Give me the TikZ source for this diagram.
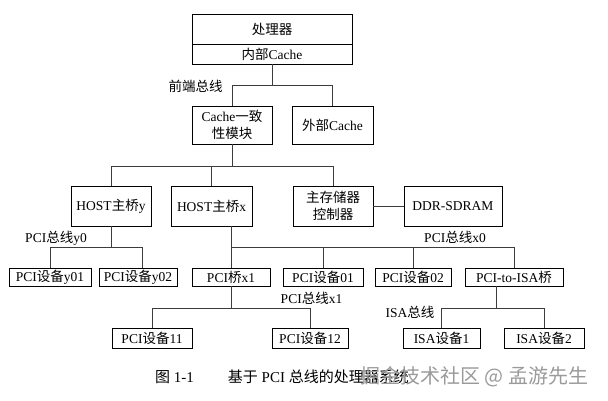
\documentclass[tikz,border=0pt]{standalone}
\usepackage{fontspec}
\setmainfont{Liberation Serif}
\newfontfamily\cjk{Noto Sans CJK SC}
\newcommand\zh[1]{{\cjk #1}}
\usetikzlibrary{calc}
\definecolor{cLineD}{HTML}{3C3C3C}
\definecolor{cMarkT}{HTML}{9A9A9A}
\tikzset{
  blk/.style   = {draw=black, line width=0.9pt, inner sep=1pt, align=center,
                  font=\fontsize{13.5}{17}\selectfont},
  unit/.style  = {blk, minimum height=40pt},
  dev/.style   = {blk, minimum height=18pt},
  leaf/.style  = {blk, minimum height=20pt},
  bus/.style   = {cLineD, line width=0.8pt},
  buslbl/.style= {font=\fontsize{13.5}{16}\selectfont, inner sep=0pt},
}

\begin{document}
\begin{tikzpicture}[x=1pt, y=-1pt]
  \useasboundingbox (0,0) rectangle (608,400);
  % processor
  \node[blk, minimum width=160pt, minimum height=30pt] (cpu) at (272,29) {\zh{处理器}};
  \node[blk, minimum width=160pt, minimum height=20pt] (icache) at (272,54) {\zh{内部}Cache};
  \node[unit, minimum width=80pt, minimum height=38pt] (coh) at (232,125) {Cache\zh{一致}\\\zh{性模块}};
  \node[unit, minimum width=81pt, minimum height=38pt] (ext) at (332.5,125) {\zh{外部}Cache};
  % host bridges and memory
  \node[unit, minimum width=80pt] (hosty) at (111,206) {HOST\zh{主桥}y};
  \node[unit, minimum width=81pt] (hostx) at (211.5,206) {HOST\zh{主桥}x};
  \node[unit, minimum width=80pt] (mcc) at (333,206) {\zh{主存储器}\\\zh{控制器}};
  \node[unit, minimum width=98pt] (ddr) at (453,206) {DDR-SDRAM};
  % PCI devices
  \node[dev, minimum width=82pt] (y01) at (50,277) {PCI\zh{设备}y01};
  \node[dev, minimum width=78pt] (y02) at (138,277) {PCI\zh{设备}y02};
  \node[dev, minimum width=78pt] (x1) at (231,277) {PCI\zh{桥}x1};
  \node[dev, minimum width=80pt] (dev01) at (323,277) {PCI\zh{设备}01};
  \node[dev, minimum width=76pt] (dev02) at (413,277) {PCI\zh{设备}02};
  \node[dev, minimum width=98pt] (isab) at (514,277) {PCI-to-ISA\zh{桥}};
  \node[leaf, minimum width=80pt] (d11) at (152,338) {PCI\zh{设备}11};
  \node[leaf, minimum width=76pt] (d12) at (310,338) {PCI\zh{设备}12};
  \node[leaf, minimum width=77pt] (isa1) at (441.5,338) {ISA\zh{设备}1};
  \node[leaf, minimum width=80pt] (isa2) at (544,338) {ISA\zh{设备}2};
  % bus levels
  \coordinate (fsb) at (0,85);
  \coordinate (sysbus) at (0,166);
  \coordinate (pcibus) at (0,247);
  \coordinate (lowbus) at (0,308);
  \coordinate (y0tap) at (142,0);
  \coordinate (isatap) at (496,0);
  \draw[bus] (icache.south) -- (icache.south |- fsb);
  \draw[bus] (coh.north) -- (coh.north |- fsb) -- (ext.north |- fsb) -- (ext.north);
  \draw[bus] (coh.south) -- (coh.south |- sysbus);
  \draw[bus] (hosty.north) -- (hosty.north |- sysbus) -- (mcc.north |- sysbus) -- (mcc.north);
  \draw[bus] (hostx.north) -- (hostx.north |- sysbus);
  \draw[bus] (mcc.east) -- (ddr.west);
  \draw[bus] (hosty.south) -- (hosty.south |- pcibus);
  \draw[bus] (y01.north) -- (y01.north |- pcibus) -- (y0tap |- pcibus) -- (y0tap |- y02.north);
  \draw[bus] (x1.north |- hostx.south) -- (x1.north);
  \draw[bus] (x1.north |- pcibus) -- (isab.north |- pcibus) -- (isab.north);
  \draw[bus] (dev01.north) -- (dev01.north |- pcibus);
  \draw[bus] (dev02.north) -- (dev02.north |- pcibus);
  \draw[bus] (x1.south) -- (x1.south |- lowbus);
  \draw[bus] (d11.north) -- (d11.north |- lowbus) -- (d12.north |- lowbus) -- (d12.north);
  \draw[bus] (isatap |- isab.south) -- (isatap |- lowbus);
  \draw[bus] (isa1.north) -- (isa1.north |- lowbus) -- (isa2.north |- lowbus) -- (isa2.north);
  % bus names
  \node[buslbl] (fsbname) at (195.5,86) {\zh{前端总线}};
  \node[buslbl] (y0name) at (56,238) {PCI\zh{总线}y0};
  \node[buslbl] (x0name) at (455,237) {PCI\zh{总线}x0};
  \node[buslbl] (x1name) at (311.5,298) {PCI\zh{总线}x1};
  \node[buslbl] (isaname) at (410,312) {ISA\zh{总线}};
  % caption
  \node[buslbl, anchor=west, font=\fontsize{15}{17}\selectfont] (cap) at (155,377)
    {\zh{图} 1-1\hspace{34pt}\zh{基于} PCI \zh{总线的处理器系统}};
  \node[anchor=west, inner sep=0pt, text=cMarkT, font=\cjk\fontsize{20}{22}\selectfont] (mark) at (360,377)
    {掘金技术社区 @ 孟游先生};
\end{tikzpicture}
\end{document}
